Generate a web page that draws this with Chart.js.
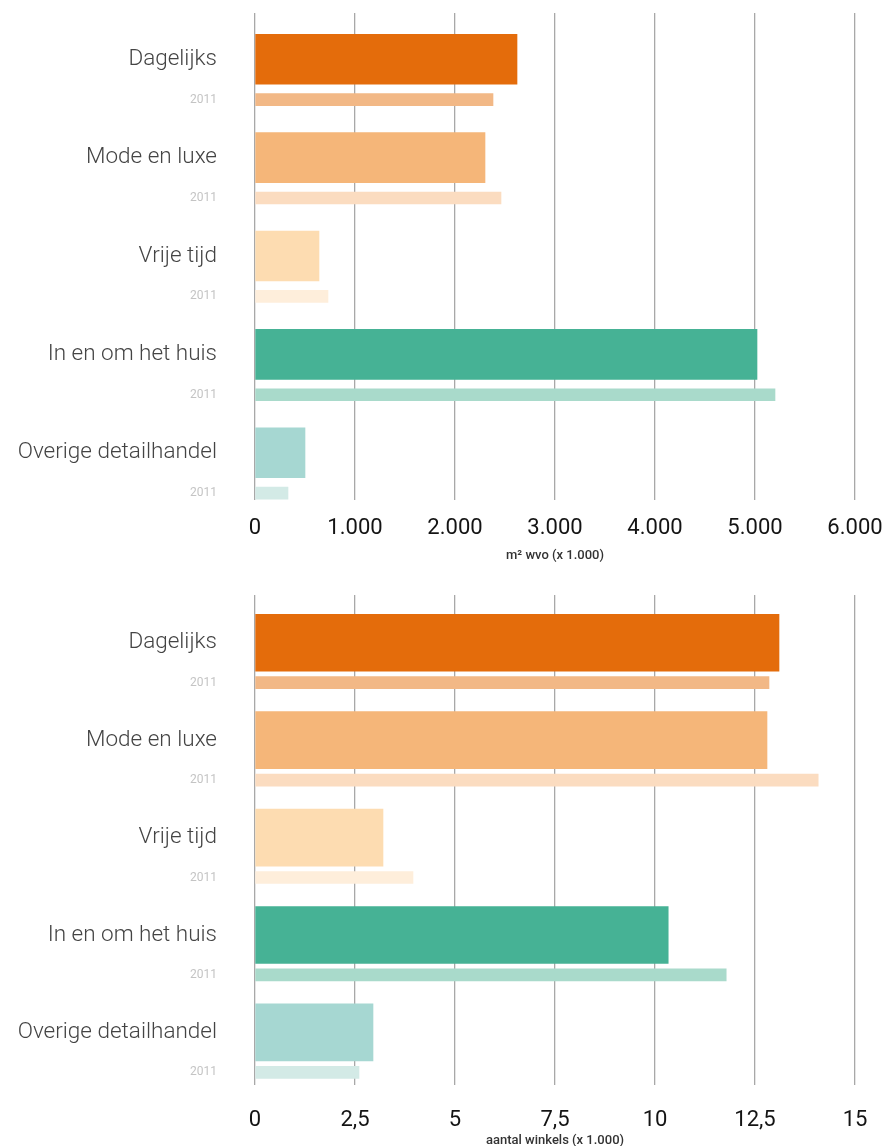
<!DOCTYPE html>
<html>
<head>
<meta charset="utf-8">
<script src="https://cdn.jsdelivr.net/npm/chart.js@4"></script>
<style>
  body { margin: 0; background: #fff; }
  .box { position: relative; width: 886px; }
</style>
</head>
<body>
<div class="box" style="height:564px"><canvas id="chart-m2"></canvas></div>
<div class="box" style="height:582px"><canvas id="chart-shops"></canvas></div>
<script>
// categories
const categories = ['Dagelijks', 'Mode en luxe', 'Vrije tijd', 'In en om het huis', 'Overige detailhandel'];
const prevLabel = '2011';

// m2 wvo (x 1.000)
const floorNow = [2620, 2300, 640, 5020, 500];
const floor2011 = [2380, 2460, 730, 5200, 330];
const floorTicks = ['0', '1.000', '2.000', '3.000', '4.000', '5.000', '6.000'];

// aantal winkels (x 1.000)
const shopsNow = [13.1, 12.8, 3.2, 10.33, 2.95];
const shops2011 = [12.85, 14.08, 3.95, 11.78, 2.6];
const shopTicks = ['0', '2,5', '5', '7,5', '10', '12,5', '15'];

const colorsNow = ['#e46c0b', '#f5b679', '#fddcb1', '#46b295', '#a6d7d2'];
const colors2011 = ['#f2b886', '#fbdcc0', '#feeedb', '#a9dacb', '#d3eae6'];

const OFFSET = 0.41; // 2011 row sits just below its category

function makeChart(id, now, prev, xTicks, step, title, opts) {
  const ctx = document.getElementById(id).getContext('2d');
  const rows = [];
  categories.forEach((c, i) => { rows.push({ v: i, text: c }); rows.push({ v: i + OFFSET, text: prevLabel }); });

  return new Chart(ctx, {
    type: 'bar',
    data: {
      datasets: [{
        data: now.map((v, i) => ({ x: v, y: i })),
        backgroundColor: colorsNow,
        barThickness: opts.thick,
        grouped: false
      }, {
        data: prev.map((v, i) => ({ x: v, y: i + OFFSET })),
        backgroundColor: colors2011,
        barThickness: 12,
        grouped: false
      }]
    },
    options: {
      indexAxis: 'y',
      responsive: true,
      maintainAspectRatio: false,
      animation: false,
      layout: { padding: { top: opts.top, right: 31, left: 0, bottom: 0 } },
      plugins: { legend: { display: false }, tooltip: { enabled: false } },
      scales: {
        y: {
          type: 'linear',
          reverse: true,
          offset: false,
          bounds: 'data',
          min: opts.ymin,
          max: opts.ymax,
          grid: { display: false, drawTicks: false, offset: false },
          border: { display: false },
          afterBuildTicks: s => {
            s.ticks = rows.map(r => ({ value: r.v }));
            s.min = opts.ymin;
            s.max = opts.ymax;
          },
          afterFit: s => { s.width = 255; s.paddingTop = 0; s.paddingBottom = 0; },
          ticks: {
            autoSkip: false,
            padding: 38,
            callback: (v, i) => rows[i] ? rows[i].text : '',
            color: c => c.index % 2 ? '#c4c4c4' : '#444',
            font: c => c.index % 2
              ? { family: 'Roboto', size: 12, weight: 400 }
              : { family: 'Roboto', size: 22.5, weight: 300 }
          }
        },
        x: {
          type: 'linear',
          min: 0,
          max: step * 6,
          grid: { color: '#a8a8a8', lineWidth: 1.3, drawTicks: false },
          border: { display: false },
          afterFit: s => { s.height = opts.xh; s.paddingLeft = 0; s.paddingRight = 0; },
          ticks: {
            stepSize: step,
            padding: opts.tickPad,
            color: '#141414',
            font: { family: 'Roboto', size: 22, weight: 400 },
            callback: (v, i) => xTicks[i]
          },
          title: {
            display: true,
            text: title,
            color: '#333',
            font: { family: 'Roboto', size: 13, weight: 500 },
            padding: { top: 0, bottom: opts.titlePad }
          }
        }
      }
    }
  });
}

makeChart('chart-m2', floorNow, floor2011, floorTicks, 1000, 'm² wvo (x 1.000)',
  { thick: 50, top: 13, ymin: -0.47, ymax: 4.48, xh: 64, tickPad: 15, titlePad: 0 });
makeChart('chart-shops', shopsNow, shops2011, shopTicks, 2.5, 'aantal winkels (x 1.000)',
  { thick: 57, top: 31, ymin: -0.49, ymax: 4.54, xh: 61, tickPad: 22, titlePad: -3 });
</script>
</body>
</html>
